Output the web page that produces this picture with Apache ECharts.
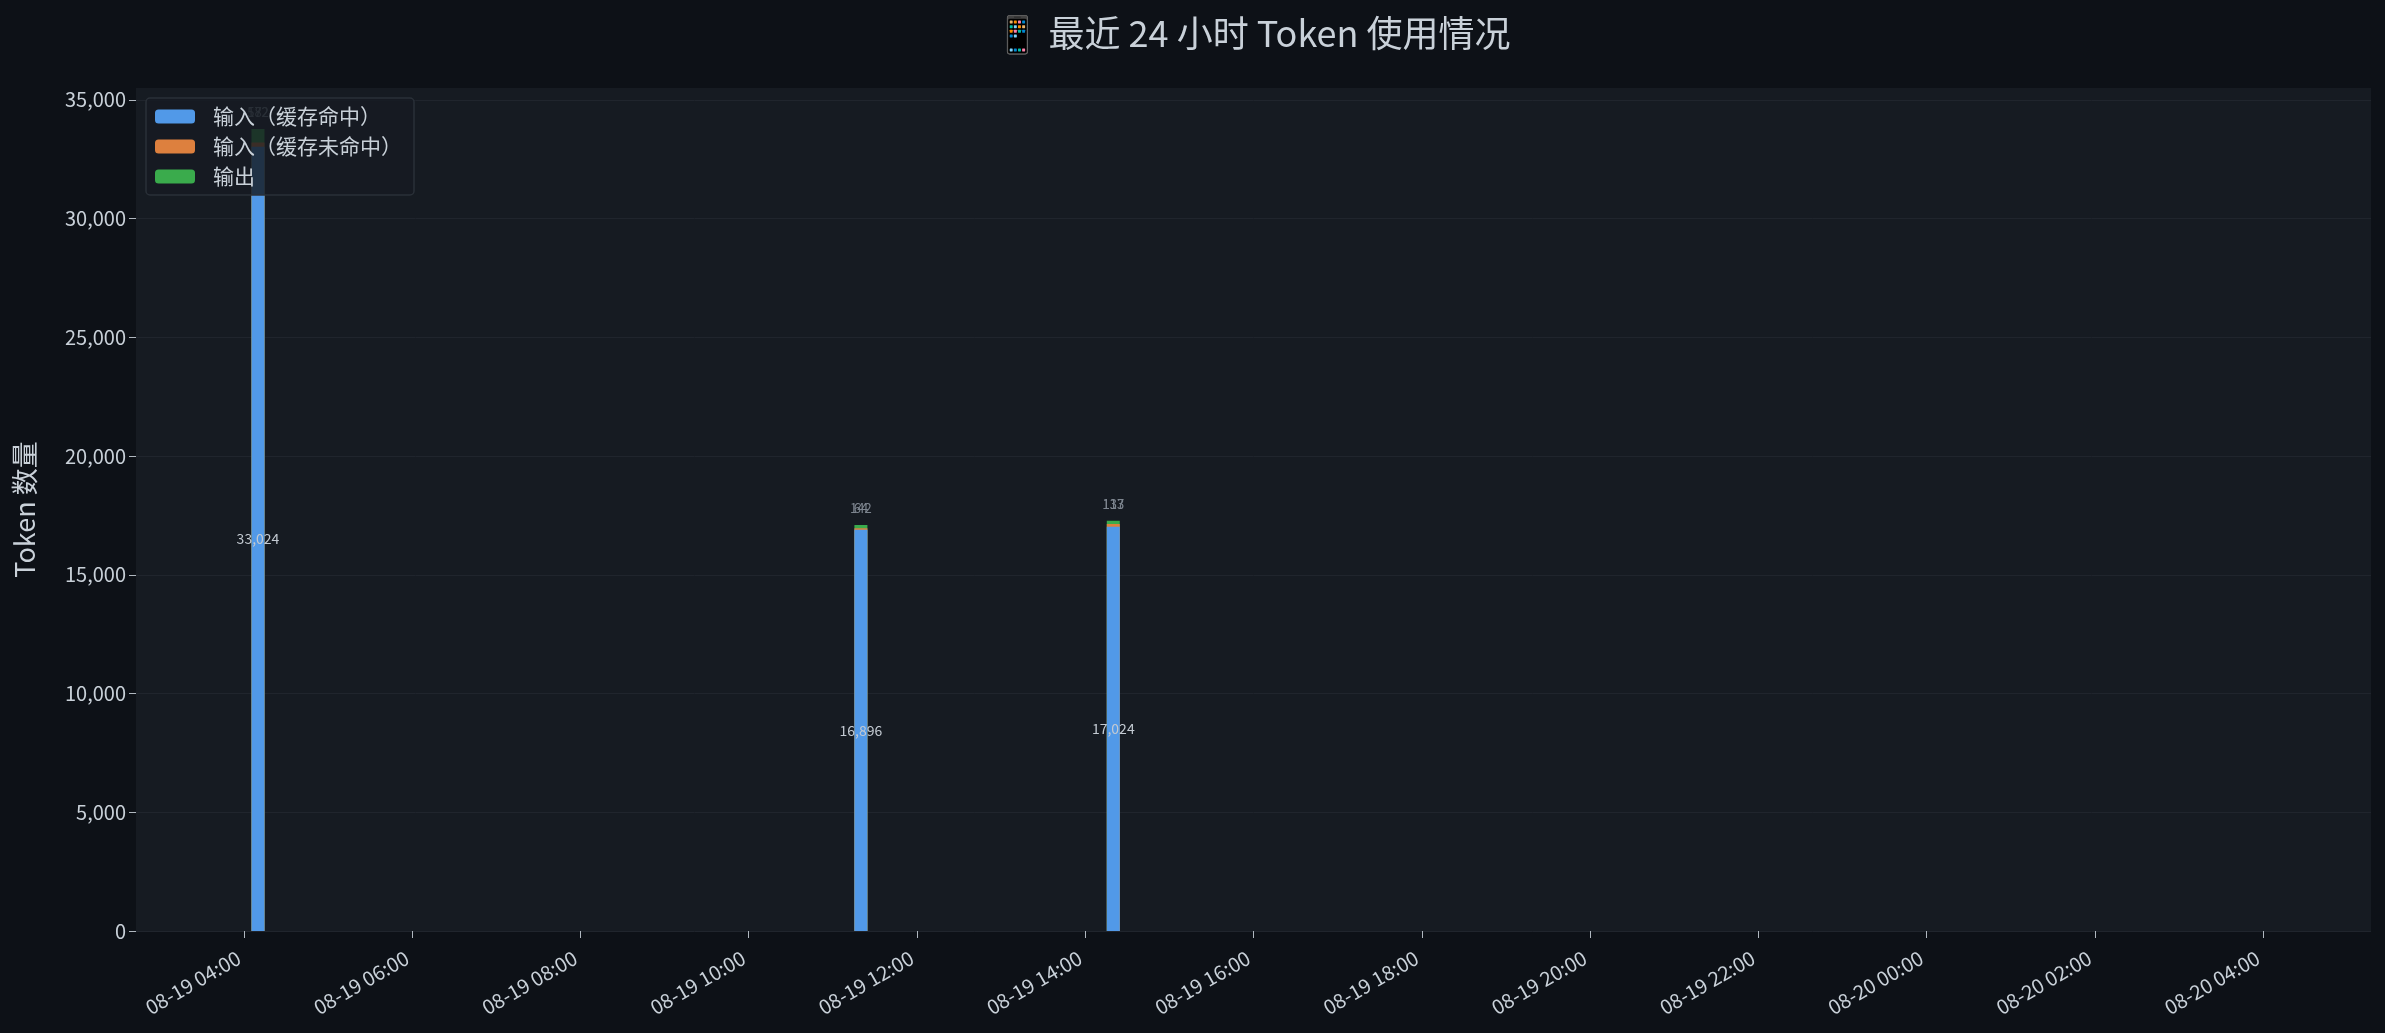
<!DOCTYPE html>
<html>
<head>
<meta charset="utf-8">
<script src="https://cdn.jsdelivr.net/npm/echarts@6/dist/echarts.min.js"></script>
<style>
  html, body { margin: 0; padding: 0; background: #0d1117; }
  #chart { width: 2385px; height: 1033px; }
</style>
</head>
<body>
<div id="chart"></div>
<script>
// 最近 24 小时 token 用量（按小时桶）
var times = ['2025-08-19 04:10', '2025-08-19 11:20', '2025-08-19 14:20'];
var cacheHit = [33024, 16896, 17024];
var cacheMiss = [182, 64, 117];
var output = [572, 142, 133];
var yTicks = [0, 5000, 10000, 15000, 20000, 25000, 30000, 35000];
var xTicks = ['2025-08-19 04:00', '2025-08-19 06:00', '2025-08-19 08:00', '2025-08-19 10:00',
	'2025-08-19 12:00', '2025-08-19 14:00', '2025-08-19 16:00', '2025-08-19 18:00',
	'2025-08-19 20:00', '2025-08-19 22:00', '2025-08-20 00:00', '2025-08-20 02:00',
	'2025-08-20 04:00'
];
var xMin = '2025-08-19 02:43';
var xMax = '2025-08-20 05:17';

var FONT = '"Noto Sans CJK SC", "Noto Sans", sans-serif';
var TXT = '#c9d1d9';

function ts(s) { return echarts.time.parse(s).getTime(); }
function fmt(v) { return Number(v).toLocaleString('en-US'); }
function pad(n) { return (n < 10 ? '0' : '') + n; }
function fmtTime(v) {
	var d = new Date(v);
	return pad(d.getMonth() + 1) + '-' + pad(d.getDate()) + ' ' + pad(d.getHours()) + ':' + pad(d.getMinutes());
}

// x 轴是数值轴，stack 不生效，这里自己累加，三层柱子叠画在同一位置
var missTop = cacheHit.map(function (v, i) { return v + cacheMiss[i]; });
var outTop = missTop.map(function (v, i) { return v + output[i]; });

var chart = echarts.init(document.getElementById('chart'));
var option = {
	backgroundColor: '#0d1117',
	textStyle: { fontFamily: FONT },
	title: {
		text: '📱 最近 24 小时 Token 使用情况',
		left: 1248,
		top: 10,
		textAlign: 'center',
		textStyle: { color: TXT, fontSize: 36, fontWeight: 'normal', fontFamily: FONT }
	},
	legend: {
		orient: 'vertical',
		left: 146,
		top: 98,
		z: 20,
		padding: [8, 12, 8, 9],
		itemWidth: 40,
		itemHeight: 14,
		itemGap: 9,
		backgroundColor: 'rgba(22,27,34,0.82)',
		borderColor: '#2a3038',
		borderWidth: 1.5,
		borderRadius: 4,
		textStyle: { color: TXT, fontSize: 21, lineHeight: 21, padding: [0, 0, 0, 13] },
		data: ['输入（缓存命中）', '输入（缓存未命中）', '输出']
	},
	grid: {
		left: 136,
		right: 14,
		top: 88,
		bottom: 102,
		show: true,
		backgroundColor: '#161b22',
		borderWidth: 0
	},
	xAxis: {
		type: 'value',
		min: ts(xMin),
		max: ts(xMax),
		axisLine: { show: false },
		axisTick: { show: true, length: 7, customValues: xTicks.map(ts), lineStyle: { color: '#b0b8c0' } },
		splitLine: { show: false },
		axisLabel: {
			rotate: 30,
			color: TXT,
			fontSize: 20,
			margin: 22,
			padding: [0, 6, 0, 0],
			customValues: xTicks.map(ts),
			formatter: fmtTime
		}
	},
	yAxis: {
		type: 'value',
		min: 0,
		max: 35500,
		name: 'Token 数量',
		nameLocation: 'middle',
		nameGap: 98,
		nameTextStyle: { color: TXT, fontSize: 27 },
		axisLine: { show: false },
		axisTick: { show: true, length: 7, customValues: yTicks, lineStyle: { color: '#b0b8c0' } },
		axisLabel: { color: TXT, fontSize: 20, margin: 10, customValues: yTicks, formatter: fmt },
		splitLine: { show: true, lineStyle: { color: '#20252d', width: 1 } }
	},
	series: [{
			name: '输出',
			type: 'bar',
			barWidth: 13,
			barGap: '-100%',
			z: 2,
			itemStyle: { color: '#3aab4c' },
			label: {
				show: true,
				position: 'top',
				distance: 10,
				color: '#7d858f',
				fontSize: 13,
				formatter: function (p) { return fmt(output[p.dataIndex]); }
			},
			data: times.map(function (t, i) { return [ts(t), outTop[i]]; })
		},
		{
			name: '输入（缓存未命中）',
			type: 'bar',
			barWidth: 13,
			barGap: '-100%',
			z: 2,
			itemStyle: { color: '#dd803e' },
			label: {
				show: true,
				position: 'top',
				distance: 10,
				color: '#7d858f',
				fontSize: 13,
				formatter: function (p) { return fmt(cacheMiss[p.dataIndex]); }
			},
			data: times.map(function (t, i) { return [ts(t), missTop[i]]; })
		},
		{
			name: '输入（缓存命中）',
			type: 'bar',
			barWidth: 13,
			barGap: '-100%',
			z: 2,
			itemStyle: { color: '#5199e8' },
			label: {
				show: true,
				position: 'inside',
				color: '#c3cad2',
				fontSize: 14,
				formatter: function (p) { return fmt(cacheHit[p.dataIndex]); }
			},
			data: times.map(function (t, i) { return [ts(t), cacheHit[i]]; })
		}
	]
};
chart.setOption(option);

// 让“未命中”标签与“输出”标签落在同一高度（都在柱顶上方）
var pxPerUnit = (chart.convertToPixel({ yAxisIndex: 0 }, 0) - chart.convertToPixel({ yAxisIndex: 0 }, 5000)) / 5000;
chart.setOption({
	series: [{}, {
		data: times.map(function (t, i) {
			return { value: [ts(t), missTop[i]], label: { distance: 10 + output[i] * pxPerUnit } };
		})
	}, {}]
});
window.addEventListener('resize', chart.resize);
</script>
</body>
</html>
